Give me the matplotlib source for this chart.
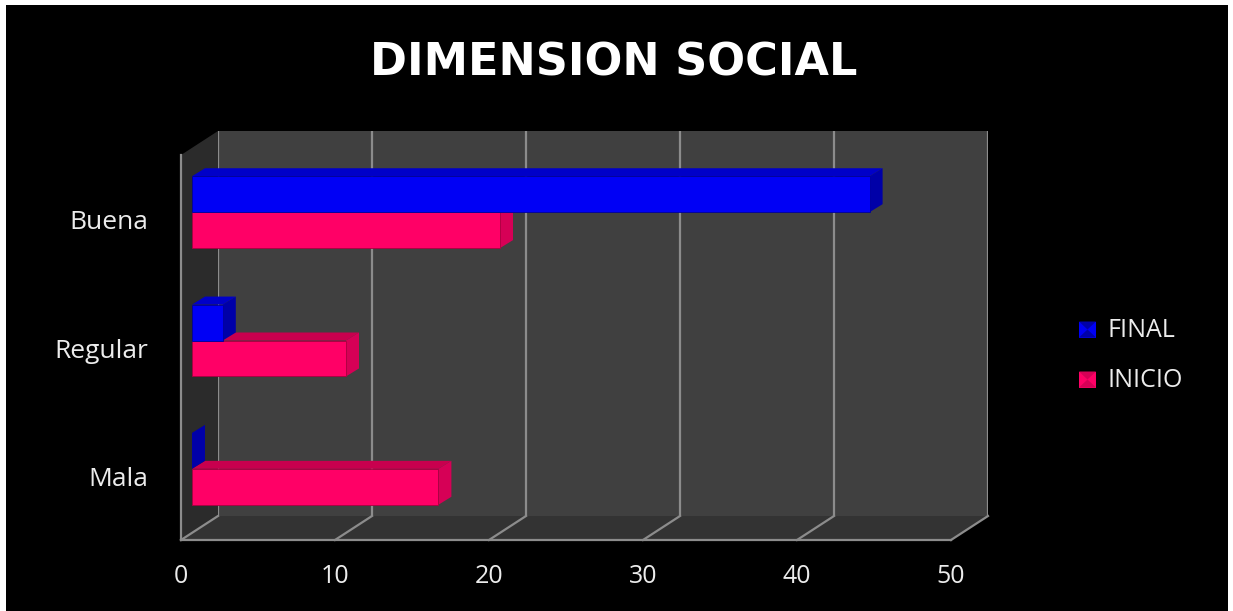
import matplotlib
matplotlib.use("Agg")
from matplotlib import pyplot as plt
from matplotlib.patches import Polygon, Rectangle
from matplotlib.lines import Line2D
from matplotlib.transforms import Affine2D, ScaledTranslation, IdentityTransform

categories = ["Mala", "Regular", "Buena"]
final = [0, 2, 44]
inicio = [16, 10, 20]
series_names = ["FINAL", "INICIO"]
x_ticks = [0, 10, 20, 30, 40, 50]
title = "DIMENSION SOCIAL"

W, H, DPI = 1233, 611, 100
FRONT = (-37, -24)   # pixel shift from the back wall to the front edge of the box
BAR = (-26, -17)     # pixel shift of the bars' front faces
DEPTH = (13, 8)      # pixel depth of each bar
BAR_H = 0.28

colors = {
    "FINAL": {"front": "#0000f5", "top": "#0000c8", "end": "#0000a8", "edge": "#00009a"},
    "INICIO": {"front": "#ff0066", "top": "#c8004e", "end": "#d60056", "edge": "#a80040"},
}

plt.rcParams["font.family"] = ["Open Sans", "DejaVu Sans"]

fig = plt.figure(figsize=(W / DPI, H / DPI), dpi=DPI, facecolor="white")
px = Affine2D().scale(1 / W, -1 / H).translate(0, 1) + fig.transFigure
fig.add_artist(Rectangle((6, 5), 1222, 606, transform=px, facecolor="black",
                         edgecolor="none", zorder=-5))

# back wall of the 3D box
ax = fig.add_axes([218 / W, (H - 516) / H, 770 / W, 385 / H])
ax.set_facecolor("#404040")
ax.set_xlim(0, 50)
ax.set_ylim(0, 3)
ax.set_xticks([])
ax.set_yticks([])
for s in ax.spines.values():
    s.set_visible(False)


def shifted(dx, dy):
    return ax.transData + ScaledTranslation(dx / DPI, dy / DPI, fig.dpi_scale_trans)


def disp(x, y, off=(0, 0)):
    X, Y = ax.transData.transform((x, y))
    return (X + off[0], Y + off[1])


def plus(p, off):
    return (p[0] + off[0], p[1] + off[1])


def face(pts, color, z, ec="none"):
    ax.add_patch(Polygon(pts, closed=True, facecolor=color, edgecolor=ec, lw=0.6,
                         transform=IdentityTransform(), clip_on=False, zorder=z))


def seg(p, q, z=2):
    ax.add_line(Line2D([p[0], q[0]], [p[1], q[1]], color="#8c8c8c", lw=1.6,
                       transform=IdentityTransform(), clip_on=False, zorder=z))


xmax = x_ticks[-1]
# floor and left side wall
face([disp(0, 0), disp(xmax, 0), disp(xmax, 0, FRONT), disp(0, 0, FRONT)], "#333333", 0.5)
face([disp(0, 0), disp(0, 3), disp(0, 3, FRONT), disp(0, 0, FRONT)], "#2b2b2b", 0.5)

ax.vlines(x_ticks, 0, 3, color="#8c8c8c", lw=1.6, zorder=1)
for x in x_ticks:
    seg(disp(x, 0), disp(x, 0, FRONT))
seg(disp(0, 0, FRONT), disp(xmax, 0, FRONT))
seg(disp(0, 0, FRONT), disp(0, 3, FRONT))

# bars, lower ones first so the upper bars sit on top of them
z = 3
for i, cat in enumerate(categories):
    for name, vals, y0 in [("INICIO", inicio, i + 0.5 - BAR_H), ("FINAL", final, i + 0.5)]:
        v = vals[i]
        c = colors[name]
        a = disp(0, y0 + BAR_H, BAR)
        b = disp(v, y0 + BAR_H, BAR)
        face([a, b, plus(b, DEPTH), plus(a, DEPTH)], c["top"], z)
        e0 = disp(v, y0, BAR)
        face([e0, b, plus(b, DEPTH), plus(e0, DEPTH)], c["end"], z + 0.1)
        if v > 0:
            ax.barh(y0, v, BAR_H, left=0, align="edge", color=c["front"],
                    edgecolor=c["edge"], lw=0.6, transform=shifted(*BAR),
                    clip_on=False, zorder=z + 0.2)
        z += 1

# axis labels sit on the front plane
for i, cat in enumerate(categories):
    ax.text(0, i + 0.5, cat, transform=shifted(-70, -34), ha="right", va="baseline",
            color="#ececec", fontsize=19, clip_on=False)
for x in x_ticks:
    ax.text(x, 0, str(x), transform=shifted(FRONT[0], FRONT[1] - 43), ha="center",
            va="baseline", color="#ececec", fontsize=18, clip_on=False)

fig.text(614, 75, title, transform=px, ha="center", va="baseline", color="white",
         fontsize=32, fontweight="bold", family=["DejaVu Sans"])

# legend
for j, name in enumerate(series_names):
    cy = 329.5 + 50 * j
    c = colors[name]
    fig.add_artist(Rectangle((1079, cy - 8), 17, 16, transform=px, facecolor=c["front"],
                             edgecolor="none"))
    fig.add_artist(Polygon([(1079, cy - 8), (1096, cy - 8), (1087.5, cy)], transform=px,
                           facecolor=c["end"], edgecolor="none"))
    fig.add_artist(Polygon([(1079, cy + 8), (1096, cy + 8), (1087.5, cy)], transform=px,
                           facecolor=c["end"], edgecolor="none"))
    fig.text(1107, cy + 7.5, name, transform=px, ha="left", va="baseline",
             color="#ececec", fontsize=18)

fig.savefig("out.png", dpi=DPI, facecolor=fig.get_facecolor())
